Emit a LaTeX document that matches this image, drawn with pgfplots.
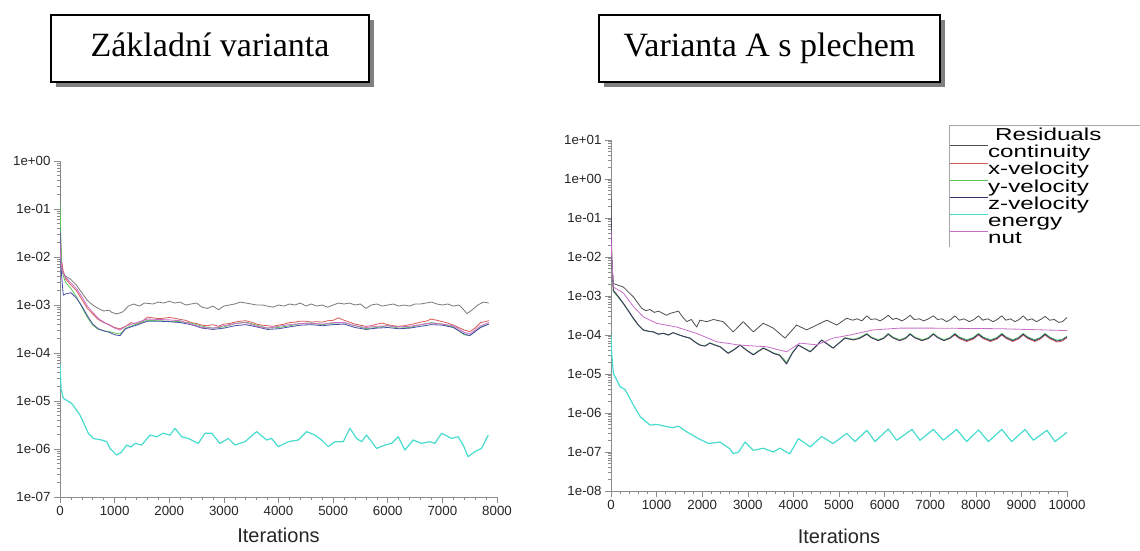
\documentclass[border=0pt]{standalone}
\usepackage{pgfplots}
\pgfplotsset{compat=1.18}
\usepackage{fontspec}
\setmainfont{Liberation Sans}
\newfontfamily\titlefont{Liberation Serif}
\definecolor{ccont}{HTML}{4E4E4E}
\definecolor{ccontL}{HTML}{7A7A7A}
\definecolor{cx}{HTML}{D85A5A}
\definecolor{cy}{HTML}{5CC85C}
\definecolor{cz}{HTML}{34346E}
\definecolor{czL}{HTML}{4A4AA8}
\definecolor{cen}{HTML}{48DCD0}
\definecolor{cnut}{HTML}{C86EC8}
\definecolor{caxis}{HTML}{8C8C8C}
\pgfplotsset{
  resid/.style={
    scale only axis, axis lines*=left,
    axis line style={caxis, line width=0.7pt},
    every tick/.style={caxis, line width=0.6pt},
    tick align=outside,
    major tick length=6pt, minor tick length=3pt,
    minor x tick num=4,
    scaled x ticks=false,
    ticklabel style={font=\fontsize{13.3}{15}\selectfont, text=black!85},
    xlabel={Iterations},
    xlabel style={font=\fontsize{20}{24}\selectfont, text=black!85},
    every axis plot/.append style={line width=0.8pt, line join=round},
    clip=true,
  },
}
\begin{document}
\begin{tikzpicture}[x=1pt,y=1pt]
\useasboundingbox (0,0) rectangle (1140,550);
\clip (0,0) rectangle (1140,550);
\fill[white] (0,0) rectangle (1140,550);
% title boxes
\fill[gray] (56,463) rectangle (374,530);
\draw[line width=1.5pt, fill=white] (51,468) rectangle (369,535);
\node[anchor=base, inner sep=0pt] at (210,493) {\titlefont\fontsize{34}{40}\selectfont Základní varianta};
\fill[gray] (604,463) rectangle (945,530);
\draw[line width=1.5pt, fill=white] (599,468) rectangle (940,535);
\node[anchor=base, inner sep=0pt] at (769.5,493) {\titlefont\fontsize{34}{40}\selectfont Varianta A s plechem};

% ---------------- left chart
\begin{axis}[ymode=log, resid, at={(60pt,53pt)}, anchor=south west, width=437pt, height=336pt,
  xlabel style={yshift=-5pt},
  xmin=0, xmax=8000, ymin=1e-7, ymax=1,
  xtick={0,1000,2000,3000,4000,5000,6000,7000,8000},
  xticklabels={0,1000,2000,3000,4000,5000,6000,7000,8000},
  ytick={1e-7,1e-6,1e-5,1e-4,1e-3,1e-2,1e-1,1},
  yticklabels={1e-07,1e-06,1e-05,1e-04,1e-03,1e-02,1e-01,1e+00},
  minor ytick={2e-7,3e-7,4e-7,5e-7,6e-7,7e-7,8e-7,9e-7,2e-6,3e-6,4e-6,5e-6,6e-6,7e-6,8e-6,9e-6,2e-5,3e-5,4e-5,5e-5,6e-5,7e-5,8e-5,9e-5,2e-4,3e-4,4e-4,5e-4,6e-4,7e-4,8e-4,9e-4,2e-3,3e-3,4e-3,5e-3,6e-3,7e-3,8e-3,9e-3,2e-2,3e-2,4e-2,5e-2,6e-2,7e-2,8e-2,9e-2,2e-1,3e-1,4e-1,5e-1,6e-1,7e-1,8e-1,9e-1},
]
% continuity
\addplot[ccontL] coordinates {(0,0.6) (10,0.03) (25,8e-3) (50,5e-3) (100,4e-3) (200,3.4e-3) (300,2.6e-3) (400,1.8e-3) (500,1.25e-3) (600,1.0e-3) (700,8.5e-4) (800,7.5e-4) (900,7.8e-4) (950,7.0e-4) (1040,6.5e-4) (1150,7.2e-4) (1250,9.5e-4) (1350,1.05e-3) (1450,9.5e-4) (1550,1.1e-3) (1700,1.05e-3) (1800,1.15e-3) (1900,1.1e-3) (2000,1.2e-3) (2100,1.1e-3) (2200,1.15e-3) (2300,1.0e-3) (2400,1.05e-3) (2500,1.1e-3) (2600,9e-4) (2700,8.5e-4) (2800,9.5e-4) (2900,8e-4) (3000,9.5e-4) (3100,1.0e-3) (3200,1.05e-3) (3300,1.15e-3) (3400,1.1e-3) (3500,1.05e-3) (3600,1.0e-3) (3700,1.0e-3) (3800,9.5e-4) (3900,9e-4) (4000,1.0e-3) (4100,9.5e-4) (4200,1.05e-3) (4300,1.0e-3) (4400,1.1e-3) (4500,9.5e-4) (4600,1.05e-3) (4700,9.5e-4) (4800,1.0e-3) (4900,9e-4) (5000,1.0e-3) (5100,1.1e-3) (5200,1.05e-3) (5300,1.1e-3) (5400,1.0e-3) (5500,1.05e-3) (5600,8.5e-4) (5700,1.0e-3) (5800,1.05e-3) (5900,9.5e-4) (6000,1.0e-3) (6100,1.05e-3) (6200,9.5e-4) (6300,1.0e-3) (6400,9.5e-4) (6500,1.05e-3) (6600,1.05e-3) (6700,1.1e-3) (6800,1.15e-3) (6900,1.05e-3) (7000,1.0e-3) (7100,1.05e-3) (7200,9.5e-4) (7300,1.0e-3) (7350,9e-4) (7450,6.6e-4) (7550,8e-4) (7650,1.0e-3) (7750,1.15e-3) (7850,1.1e-3)};
% x-velocity
\addplot[cx] coordinates {(0,5e-2) (10,2e-2) (30,8e-3) (60,5e-3) (100,3.5e-3) (200,2.6e-3) (300,2.0e-3) (400,1.3e-3) (500,8.5e-4) (600,6.5e-4) (700,5e-4) (800,4.3e-4) (900,3.9e-4) (1000,3.4e-4) (1100,3.2e-4) (1200,3.6e-4) (1300,4.3e-4) (1400,4e-4) (1500,4.5e-4) (1600,5.6e-4) (1700,5.4e-4) (1800,5.2e-4) (1900,5.3e-4) (2000,5.5e-4) (2100,5.3e-4) (2200,5.0e-4) (2300,4.8e-4) (2400,4.3e-4) (2500,4.1e-4) (2600,3.8e-4) (2700,3.7e-4) (2800,3.9e-4) (2900,3.6e-4) (3000,4.0e-4) (3100,4.1e-4) (3200,4.4e-4) (3300,4.6e-4) (3400,4.7e-4) (3500,4.4e-4) (3600,4.0e-4) (3700,3.8e-4) (3800,3.7e-4) (3900,3.6e-4) (4000,3.8e-4) (4100,4.0e-4) (4200,4.3e-4) (4300,4.4e-4) (4400,4.6e-4) (4500,4.6e-4) (4600,4.4e-4) (4700,4.5e-4) (4800,4.4e-4) (4900,4.7e-4) (5000,4.8e-4) (5100,5.4e-4) (5200,4.8e-4) (5300,4.4e-4) (5400,4.0e-4) (5500,3.8e-4) (5600,3.6e-4) (5700,3.7e-4) (5800,4.0e-4) (5900,4.2e-4) (6000,3.9e-4) (6100,3.7e-4) (6200,3.6e-4) (6300,3.7e-4) (6400,3.9e-4) (6500,4.1e-4) (6600,4.4e-4) (6700,4.6e-4) (6800,5.1e-4) (6900,4.8e-4) (7000,4.5e-4) (7100,4.2e-4) (7200,3.8e-4) (7300,3.4e-4) (7400,3.0e-4) (7500,2.8e-4) (7600,3.3e-4) (7700,4.3e-4) (7850,4.7e-4)};
% y-velocity
\addplot[cy] coordinates {(0,1.5e-1) (10,4e-2) (30,6e-3) (60,4e-3) (100,3e-3) (200,2.2e-3) (300,1.5e-3) (400,9e-4) (500,5.5e-4) (600,3.8e-4) (700,3.1e-4) (800,2.9e-4) (900,2.8e-4) (1000,2.6e-4) (1100,2.5e-4) (1200,3.3e-4) (1400,4.0e-4) (1600,4.8e-4) (1800,4.7e-4) (2000,4.6e-4) (2200,4.5e-4) (2400,4.2e-4) (2600,3.6e-4) (2800,3.3e-4) (3000,3.5e-4) (3200,4.1e-4) (3400,4.4e-4) (3600,3.8e-4) (3800,3.3e-4) (4000,3.4e-4) (4200,3.7e-4) (4400,4.1e-4) (4600,4.2e-4) (4800,3.9e-4) (5000,4.2e-4) (5200,4.3e-4) (5400,3.7e-4) (5600,3.2e-4) (5800,3.4e-4) (6000,3.7e-4) (6200,3.3e-4) (6400,3.4e-4) (6600,3.9e-4) (6800,4.3e-4) (7000,4.0e-4) (7200,3.5e-4) (7400,2.4e-4) (7500,2.3e-4) (7600,2.8e-4) (7700,3.5e-4) (7850,4.0e-4)};
% z-velocity
\addplot[czL] coordinates {(0,4e-2) (10,1e-2) (30,4e-3) (60,1.6e-3) (100,1.7e-3) (200,1.8e-3) (300,1.4e-3) (400,9.5e-4) (500,6e-4) (600,4e-4) (700,3.2e-4) (800,2.9e-4) (900,2.7e-4) (1000,2.4e-4) (1100,2.3e-4) (1200,3.2e-4) (1400,3.8e-4) (1600,4.6e-4) (1800,4.6e-4) (2000,4.5e-4) (2200,4.3e-4) (2400,3.9e-4) (2600,3.3e-4) (2800,3.1e-4) (3000,3.3e-4) (3200,3.7e-4) (3400,3.9e-4) (3600,3.5e-4) (3800,3.1e-4) (4000,3.2e-4) (4200,3.5e-4) (4400,3.8e-4) (4600,3.9e-4) (4800,3.7e-4) (5000,3.9e-4) (5200,4.0e-4) (5400,3.4e-4) (5600,3.1e-4) (5800,3.3e-4) (6000,3.4e-4) (6200,3.2e-4) (6400,3.3e-4) (6600,3.6e-4) (6800,3.9e-4) (7000,3.8e-4) (7200,3.4e-4) (7400,2.5e-4) (7500,2.3e-4) (7600,2.8e-4) (7700,3.4e-4) (7850,4.0e-4)};
% energy
\addplot[cen, line width=1.2pt] coordinates {(0,6e-5) (20,1.8e-5) (61,1.14e-5) (214,8.9e-6) (366,5.1e-6) (519,2.13e-6) (610,1.66e-6) (763,1.54e-6) (854,1.42e-6) (915,1.03e-6) (1037,7.5e-7) (1120,8.5e-7) (1220,1.21e-6) (1300,1.1e-6) (1373,1.31e-6) (1495,1.21e-6) (1647,1.95e-6) (1769,1.8e-6) (1891,2.13e-6) (2013,1.95e-6) (2105,2.7e-6) (2227,1.8e-6) (2349,1.66e-6) (2532,1.31e-6) (2654,2.13e-6) (2776,2.13e-6) (2928,1.31e-6) (3081,1.66e-6) (3203,1.21e-6) (3386,1.42e-6) (3599,2.3e-6) (3782,1.54e-6) (3874,1.66e-6) (3996,1.12e-6) (4178,1.42e-6) (4362,1.54e-6) (4514,2.3e-6) (4667,1.95e-6) (4789,1.54e-6) (4911,1.12e-6) (5033,1.42e-6) (5185,1.42e-6) (5307,2.7e-6) (5429,1.66e-6) (5521,1.42e-6) (5613,1.95e-6) (5795,1.03e-6) (5948,1.21e-6) (6070,1.31e-6) (6192,1.8e-6) (6314,9.5e-7) (6466,1.54e-6) (6619,1.31e-6) (6771,1.42e-6) (6863,1.31e-6) (6985,2.13e-6) (7167,1.66e-6) (7290,1.8e-6) (7381,1.21e-6) (7472,6.9e-7) (7594,8.8e-7) (7716,1.03e-6) (7840,1.95e-6)};
% nut
\addplot[cnut] coordinates {(0,2e-2) (10,1e-2) (30,6e-3) (60,4.5e-3) (100,3.8e-3) (200,2.9e-3) (300,2.2e-3) (400,1.5e-3) (500,9.5e-4) (600,7e-4) (700,5.3e-4) (800,4.4e-4) (900,3.8e-4) (1000,3.3e-4) (1100,3.0e-4) (1200,3.6e-4) (1400,4.3e-4) (1600,5.1e-4) (1800,5.0e-4) (2000,4.9e-4) (2200,4.7e-4) (2400,4.0e-4) (2600,3.4e-4) (2800,3.3e-4) (3000,3.7e-4) (3200,4.1e-4) (3400,4.3e-4) (3600,3.6e-4) (3800,3.3e-4) (4000,3.6e-4) (4200,3.9e-4) (4400,4.1e-4) (4600,4.2e-4) (4800,4.0e-4) (5000,4.3e-4) (5200,4.3e-4) (5400,3.7e-4) (5600,3.4e-4) (5800,3.6e-4) (6000,3.7e-4) (6200,3.5e-4) (6400,3.6e-4) (6600,3.9e-4) (6800,4.2e-4) (7000,4.0e-4) (7200,3.7e-4) (7400,2.7e-4) (7500,2.5e-4) (7600,3.0e-4) (7700,3.7e-4) (7850,4.3e-4)};
\end{axis}

% ---------------- right chart
\begin{axis}[ymode=log, resid, at={(611pt,59pt)}, anchor=south west, width=456pt, height=351pt,
  xlabel style={yshift=-12pt},
  xmin=0, xmax=10000, ymin=1e-8, ymax=10,
  xtick={0,1000,2000,3000,4000,5000,6000,7000,8000,9000,10000},
  xticklabels={0,1000,2000,3000,4000,5000,6000,7000,8000,9000,10000},
  ytick={1e-8,1e-7,1e-6,1e-5,1e-4,1e-3,1e-2,1e-1,1,10},
  yticklabels={1e-08,1e-07,1e-06,1e-05,1e-04,1e-03,1e-02,1e-01,1e+00,1e+01},
  minor ytick={2e-8,3e-8,4e-8,5e-8,6e-8,7e-8,8e-8,9e-8,2e-7,3e-7,4e-7,5e-7,6e-7,7e-7,8e-7,9e-7,2e-6,3e-6,4e-6,5e-6,6e-6,7e-6,8e-6,9e-6,2e-5,3e-5,4e-5,5e-5,6e-5,7e-5,8e-5,9e-5,2e-4,3e-4,4e-4,5e-4,6e-4,7e-4,8e-4,9e-4,2e-3,3e-3,4e-3,5e-3,6e-3,7e-3,8e-3,9e-3,2e-2,3e-2,4e-2,5e-2,6e-2,7e-2,8e-2,9e-2,2e-1,3e-1,4e-1,5e-1,6e-1,7e-1,8e-1,9e-1,2,3,4,5,6,7,8,9},
  legend style={at={(0.741,1.043)}, anchor=north west, draw=none, fill=white,
    inner sep=0pt, outer sep=0pt, row sep=0pt,
    font=\fontsize{17.3}{17.3}\selectfont,
    nodes={inner sep=0pt, outer sep=0pt, text height=15.5pt, text depth=1.7pt},
    /tikz/every even column/.append style={column sep=0pt}},
  legend cell align=left,
  legend image code/.code={\draw[#1] (0pt,5pt) -- (38pt,5pt);},
]
\addlegendimage{empty legend}
\addlegendentry{\hspace{7pt}\scalebox{1.4}[1]{Residuals}}
% continuity
\addplot[ccont] coordinates {(0,0.5) (15,1e-2) (51,2.1e-3) (150,1.9e-3) (270,1.7e-3) (490,9.5e-4) (670,4.9e-4) (760,4.2e-4) (855,4.5e-4) (950,3.8e-4) (1040,4.1e-4) (1220,3.2e-4) (1300,3.6e-4) (1480,4.1e-4) (1560,3.0e-4) (1660,2.2e-4) (1760,2.5e-4) (1880,1.6e-4) (1950,2.4e-4) (2100,2.2e-4) (2245,2.5e-4) (2460,2.2e-4) (2680,1.2e-4) (2900,2.2e-4) (3120,1.2e-4) (3340,2e-4) (3560,1.5e-4) (3815,8.3e-5) (4070,1.8e-4) (4290,1.35e-4) (4510,1.8e-4) (4730,2.4e-4) (4950,1.8e-4) (5170,2.7e-4) (5300,2.4e-4) (5400,2.6e-4) (5500,2.3e-4) (5610,3.1e-4) (5700,2.5e-4) (5800,2.6e-4) (5900,2.3e-4) (6000,2.7e-4) (6080,3.2e-4) (6180,2.5e-4) (6260,2.7e-4) (6380,2.3e-4) (6460,2.6e-4) (6560,3.2e-4) (6650,2.5e-4) (6760,2.6e-4) (6860,2.3e-4) (6960,2.6e-4) (7070,3.1e-4) (7160,2.5e-4) (7260,2.6e-4) (7360,2.2e-4) (7450,2.5e-4) (7540,3.1e-4) (7640,2.4e-4) (7740,2.6e-4) (7860,2.2e-4) (7960,2.5e-4) (8060,3.1e-4) (8150,2.4e-4) (8260,2.6e-4) (8380,2.2e-4) (8470,2.5e-4) (8570,3.1e-4) (8660,2.4e-4) (8760,2.6e-4) (8860,2.2e-4) (8950,2.5e-4) (9040,3.1e-4) (9130,2.4e-4) (9230,2.6e-4) (9330,2.2e-4) (9420,2.5e-4) (9520,3.0e-4) (9620,2.4e-4) (9720,2.5e-4) (9820,2.1e-4) (9900,2.2e-4) (10000,2.8e-4)};
\addlegendentry{\scalebox{1.4}[1]{continuity}}
% x-velocity
\addplot[cx] coordinates {(0,0.08) (15,1e-2) (51,1.4e-3) (150,1.0e-3) (270,6.5e-4) (380,4.2e-4) (490,2.7e-4) (600,1.8e-4) (710,1.35e-4) (820,1.25e-4) (930,1.2e-4) (1040,1.05e-4) (1150,1.1e-4) (1260,1.0e-4) (1360,1.15e-4) (1500,1.0e-4) (1620,9e-5) (1730,8.3e-5) (1850,6.5e-5) (1950,5.5e-5) (2060,5.2e-5) (2170,6.2e-5) (2280,5.5e-5) (2390,5e-5) (2470,4.2e-5) (2570,3.4e-5) (2700,4.2e-5) (2830,5.5e-5) (2980,4.0e-5) (3120,3.1e-5) (3230,3.8e-5) (3340,4.6e-5) (3450,4.0e-5) (3560,3.4e-5) (3700,3.0e-5) (3850,1.9e-5) (3980,3.5e-5) (4110,5.5e-5) (4240,4.5e-5) (4370,3.7e-5) (4500,5.2e-5) (4620,7.4e-5) (4750,5.8e-5) (4870,4.6e-5) (5000,6.2e-5) (5130,8.3e-5) (5320,7.5e-5) (5450,8.2e-5) (5610,1.05e-4) (5710,8.5e-5) (5860,7.2e-5) (5980,8.2e-5) (6080,1.05e-4) (6180,8.5e-5) (6330,7.2e-5) (6460,8.2e-5) (6560,1.05e-4) (6660,8.5e-5) (6820,7.2e-5) (6960,8.2e-5) (7070,1.05e-4) (7170,8.5e-5) (7300,7.2e-5) (7430,8.2e-5) (7540,1.0e-4) (7640,8.1e-5) (7800,6.8e-5) (7940,7.8e-5) (8060,1.0e-4) (8160,8.1e-5) (8320,6.8e-5) (8460,7.8e-5) (8570,1.0e-4) (8670,8.1e-5) (8810,6.8e-5) (8930,7.8e-5) (9040,1.0e-4) (9140,8.1e-5) (9290,6.8e-5) (9410,7.8e-5) (9520,1.0e-4) (9620,8.1e-5) (9780,6.6e-5) (9900,7.0e-5) (10000,8.5e-5)};
\addlegendentry{\scalebox{1.4}[1]{x-velocity}}
% y-velocity
\addplot[cy] coordinates {(0,0.06) (15,8e-3) (51,1.3e-3) (150,9.5e-4) (270,6.3e-4) (380,4.1e-4) (490,2.6e-4) (600,1.75e-4) (710,1.3e-4) (820,1.25e-4) (930,1.2e-4) (1040,1.05e-4) (1150,1.12e-4) (1260,1.0e-4) (1360,1.15e-4) (1500,1.0e-4) (1620,9e-5) (1730,8.5e-5) (1850,6.6e-5) (1950,5.6e-5) (2060,5.3e-5) (2170,6.3e-5) (2280,5.6e-5) (2390,5.1e-5) (2470,4.3e-5) (2570,3.5e-5) (2700,4.3e-5) (2830,5.6e-5) (2980,4.1e-5) (3120,3.2e-5) (3230,3.9e-5) (3340,4.7e-5) (3450,4.1e-5) (3560,3.5e-5) (3700,3.1e-5) (3850,2.0e-5) (3980,3.6e-5) (4110,5.6e-5) (4240,4.6e-5) (4370,3.8e-5) (4500,5.3e-5) (4620,7.5e-5) (4750,5.9e-5) (4870,4.7e-5) (5000,6.3e-5) (5130,8.6e-5) (5320,7.8e-5) (5450,8.6e-5) (5610,1.1e-4) (5710,8.9e-5) (5860,7.6e-5) (5980,8.6e-5) (6080,1.1e-4) (6180,8.9e-5) (6330,7.6e-5) (6460,8.6e-5) (6560,1.1e-4) (6660,8.9e-5) (6820,7.6e-5) (6960,8.6e-5) (7070,1.1e-4) (7170,8.9e-5) (7300,7.6e-5) (7430,8.6e-5) (7540,1.1e-4) (7640,8.9e-5) (7800,7.6e-5) (7940,8.6e-5) (8060,1.1e-4) (8160,8.9e-5) (8320,7.6e-5) (8460,8.6e-5) (8570,1.1e-4) (8670,8.9e-5) (8810,7.6e-5) (8930,8.6e-5) (9040,1.1e-4) (9140,8.9e-5) (9290,7.6e-5) (9410,8.6e-5) (9520,1.1e-4) (9620,8.9e-5) (9780,7.4e-5) (9900,7.8e-5) (10000,9.3e-5)};
\addlegendentry{\scalebox{1.4}[1]{y-velocity}}
% z-velocity
\addplot[cz] coordinates {(0,0.1) (15,1e-2) (51,1.4e-3) (150,1.0e-3) (270,6.5e-4) (380,4.2e-4) (490,2.7e-4) (600,1.8e-4) (710,1.35e-4) (820,1.25e-4) (930,1.2e-4) (1040,1.05e-4) (1150,1.1e-4) (1260,1.0e-4) (1360,1.15e-4) (1500,1.0e-4) (1620,9e-5) (1730,8.3e-5) (1850,6.5e-5) (1950,5.5e-5) (2060,5.2e-5) (2170,6.2e-5) (2280,5.5e-5) (2390,5e-5) (2470,4.2e-5) (2570,3.4e-5) (2700,4.2e-5) (2830,5.5e-5) (2980,4.0e-5) (3120,3.1e-5) (3230,3.8e-5) (3340,4.6e-5) (3450,4.0e-5) (3560,3.4e-5) (3700,3.0e-5) (3850,1.8e-5) (3980,3.5e-5) (4110,5.5e-5) (4240,4.5e-5) (4370,3.7e-5) (4500,5.2e-5) (4620,7.4e-5) (4750,5.8e-5) (4870,4.6e-5) (5000,6.2e-5) (5130,8.3e-5) (5320,7.5e-5) (5450,8.2e-5) (5610,1.05e-4) (5710,8.5e-5) (5860,7.2e-5) (5980,8.2e-5) (6080,1.05e-4) (6180,8.5e-5) (6330,7.2e-5) (6460,8.2e-5) (6560,1.05e-4) (6660,8.5e-5) (6820,7.2e-5) (6960,8.2e-5) (7070,1.05e-4) (7170,8.5e-5) (7300,7.2e-5) (7430,8.2e-5) (7540,1.05e-4) (7640,8.5e-5) (7800,7.2e-5) (7940,8.2e-5) (8060,1.05e-4) (8160,8.5e-5) (8320,7.2e-5) (8460,8.2e-5) (8570,1.05e-4) (8670,8.5e-5) (8810,7.2e-5) (8930,8.2e-5) (9040,1.05e-4) (9140,8.5e-5) (9290,7.2e-5) (9410,8.2e-5) (9520,1.05e-4) (9620,8.5e-5) (9780,7.0e-5) (9900,7.5e-5) (10000,9e-5)};
\addlegendentry{\scalebox{1.4}[1]{z-velocity}}
% energy
\addplot[cen, line width=1.2pt] coordinates {(0,1e-4) (15,3.4e-5) (51,1.05e-5) (200,4.7e-6) (310,4e-6) (490,1.6e-6) (640,8.1e-7) (855,4.9e-7) (1000,5.1e-7) (1220,4.5e-7) (1350,4.2e-7) (1480,4.6e-7) (1660,3.3e-7) (1920,2.2e-7) (2140,1.65e-7) (2390,1.8e-7) (2610,1.2e-7) (2680,9.1e-8) (2800,1e-7) (2940,1.8e-7) (3120,1.1e-7) (3340,1.25e-7) (3560,1e-7) (3700,1.25e-7) (3920,9e-8) (4110,2.2e-7) (4370,1.35e-7) (4620,2.5e-7) (4870,1.65e-7) (5170,3e-7) (5351,1.85e-7) (5610,3.6e-7) (5790,1.85e-7) (6080,3.9e-7) (6264,2e-7) (6600,3.8e-7) (6776,2e-7) (7070,3.8e-7) (7288,2e-7) (7580,3.8e-7) (7800,1.85e-7) (8060,3.7e-7) (8275,1.85e-7) (8570,3.8e-7) (8787,1.85e-7) (9080,3.8e-7) (9262,2e-7) (9560,3.6e-7) (9737,1.85e-7) (10000,3.2e-7)};
\addlegendentry{\scalebox{1.4}[1]{energy}}
% nut
\addplot[cnut] coordinates {(0,0.05) (15,1e-2) (51,1.7e-3) (270,1.2e-3) (490,5.4e-4) (710,2.9e-4) (1000,2e-4) (1440,1.6e-4) (1880,1.1e-4) (2320,6.7e-5) (2830,5.5e-5) (3410,5e-5) (3850,3.7e-5) (4140,6.2e-5) (4510,5.6e-5) (4870,8.3e-5) (5240,1e-4) (5750,1.35e-4) (6330,1.5e-4) (7070,1.5e-4) (8530,1.45e-4) (10000,1.3e-4)};
\addlegendentry{\scalebox{1.4}[1]{nut}}
\end{axis}
\draw[gray!70, line width=0.8pt] (949,303) -- (949,425) -- (1140,425);
\end{tikzpicture}
\end{document}
